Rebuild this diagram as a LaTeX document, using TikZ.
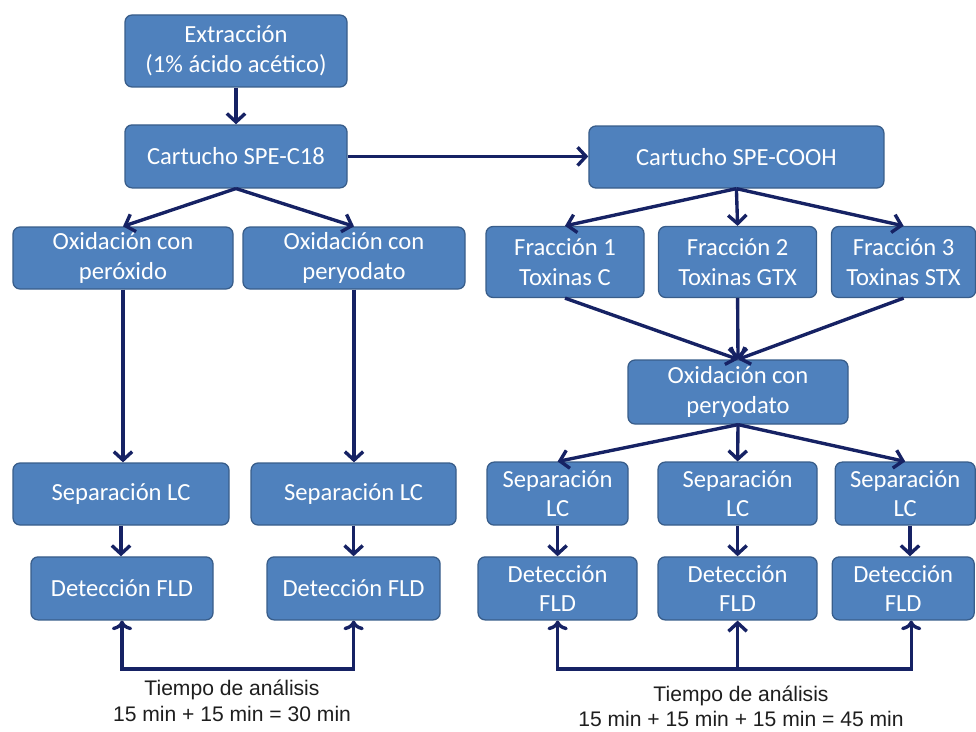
\documentclass[tikz,border=0pt]{standalone}
\usepackage{fontspec}
\setmainfont{Carlito}
\newfontfamily\arialfont{Liberation Sans}
\usepackage{tikz}
\usetikzlibrary{arrows.meta, positioning, calc}
\definecolor{myblue}{RGB}{79,129,189}
\definecolor{myedge}{RGB}{56,93,138}
\definecolor{mynavy}{RGB}{22,34,100}
\definecolor{mytext}{RGB}{30,30,30}
\tikzset{
  paso/.style={rectangle, draw=myedge, fill=myblue, text=white,
    align=center, inner sep=0pt, rounded corners=5pt, line width=0.9pt,
    font=\fontsize{17.5}{21}\selectfont},
  flecha/.style={-{Straight Barb[length=6pt,width=13pt]}, line width=2.4pt, color=mynavy},
  nota/.style={align=center, text=mytext, font=\arialfont\fontsize{15}{18}\selectfont}
}
\begin{document}
\begin{tikzpicture}
  \useasboundingbox (0,0) rectangle (24.4,-18.275);

  % Rama SPE-C18
  \node[paso, minimum width=5.55cm, minimum height=1.8cm] (extr) at (5.9,-1.275) {Extracción\\(1\% ácido acético)};
  \node[paso, minimum width=5.55cm, minimum height=1.575cm] (c18) at (5.9,-3.91) {Cartucho SPE-C18};
  \node[paso, minimum width=5.5cm, minimum height=1.55cm] (oxper) at (3.075,-6.45) {Oxidación con\\peróxido};
  \node[paso, minimum width=5.55cm, minimum height=1.55cm] (oxpyA) at (8.85,-6.45) {Oxidación con\\peryodato};
  \node[paso, minimum width=5.4cm, minimum height=1.55cm] (sepA) at (3.025,-12.35) {Separación LC};
  \node[paso, minimum width=5.125cm, minimum height=1.55cm] (sepB) at (8.84,-12.35) {Separación LC};
  \node[paso, minimum width=4.55cm, minimum height=1.575cm] (detA) at (3.05,-14.71) {Detección FLD};
  \node[paso, minimum width=4.325cm, minimum height=1.575cm] (detB) at (8.84,-14.71) {Detección FLD};

  % Rama SPE-COOH
  \node[paso, minimum width=7.375cm, minimum height=1.55cm] (cooh) at (18.41,-3.925) {Cartucho SPE-COOH};
  \node[paso, minimum width=3.95cm, minimum height=1.775cm] (frac1) at (14.125,-6.55) {Fracción 1\\Toxinas C};
  \node[paso, minimum width=3.95cm, minimum height=1.775cm] (frac2) at (18.44,-6.55) {Fracción 2\\Toxinas GTX};
  \node[paso, minimum width=3.6cm, minimum height=1.775cm] (frac3) at (22.59,-6.55) {Fracción 3\\Toxinas STX};
  \node[paso, minimum width=5.5cm, minimum height=1.6cm] (oxpyC) at (18.45,-9.8) {Oxidación con\\peryodato};
  \node[paso, minimum width=3.525cm, minimum height=1.575cm] (sep1) at (13.94,-12.34) {Separación\\LC};
  \node[paso, minimum width=3.975cm, minimum height=1.575cm] (sep2) at (18.44,-12.34) {Separación\\LC};
  \node[paso, minimum width=3.5cm, minimum height=1.575cm] (sep3) at (22.63,-12.34) {Separación\\LC};
  \node[paso, minimum width=3.975cm, minimum height=1.575cm] (det1) at (13.94,-14.71) {Detección\\FLD};
  \node[paso, minimum width=3.975cm, minimum height=1.575cm] (det2) at (18.44,-14.71) {Detección\\FLD};
  \node[paso, minimum width=3.55cm, minimum height=1.575cm] (det3) at (22.58,-14.71) {Detección\\FLD};

  % Tiempos
  \node[nota] (tiempoA) at (5.8,-17.52) {Tiempo de análisis\\15 min + 15 min = 30 min};
  \node[nota] (tiempoB) at (18.525,-17.66) {Tiempo de análisis\\15 min + 15 min + 15 min = 45 min};
  \coordinate (baseA) at (3.05,-16.725);
  \coordinate (baseB) at (18.44,-16.725);

  % Flechas izquierda
  \draw[flecha] (extr) -- (c18);
  \draw[flecha] (c18.south) -- (oxper.north);
  \draw[flecha] (c18.south) -- (oxpyA.north);
  \draw[flecha] (oxper.south) -- (oxper.south |- sepA.north);
  \draw[flecha] (oxpyA.south) -- (oxpyA.south |- sepB.north);
  \draw[flecha] (sepA.south) -- (sepA.south |- detA.north);
  \draw[flecha] (sepB.south) -- (sepB.south |- detB.north);
  \draw[flecha, <->] (detA.south) |- (baseA) -| (detB.south);

  % Flechas derecha
  \draw[flecha] (c18.east) -- (c18.east -| cooh.west);
  \draw[flecha] (cooh.south) -- (frac1.north);
  \draw[flecha] (cooh.south) -- (frac2.north);
  \draw[flecha] (cooh.south) -- (frac3.north);
  \draw[flecha] (frac1.south) -- (oxpyC.north);
  \draw[flecha] (frac2.south) -- (oxpyC.north);
  \draw[flecha] (frac3.south) -- (oxpyC.north);
  \draw[flecha] (oxpyC.south) -- (sep1.north);
  \draw[flecha] (oxpyC.south) -- (sep2.north);
  \draw[flecha] (oxpyC.south) -- (sep3.north);
  \draw[flecha] (sep1.south) -- (sep1.south |- det1.north);
  \draw[flecha] (sep2.south) -- (sep2.south |- det2.north);
  \draw[flecha] ([xshift=0.12cm]sep3.south) -- ([xshift=0.12cm]sep3.south |- det3.north);
  \draw[flecha, <->] (det1.south) |- (baseB) -| ([xshift=0.2cm]det3.south);
  \draw[flecha] (baseB) -- (det2.south);
\end{tikzpicture}
\end{document}
